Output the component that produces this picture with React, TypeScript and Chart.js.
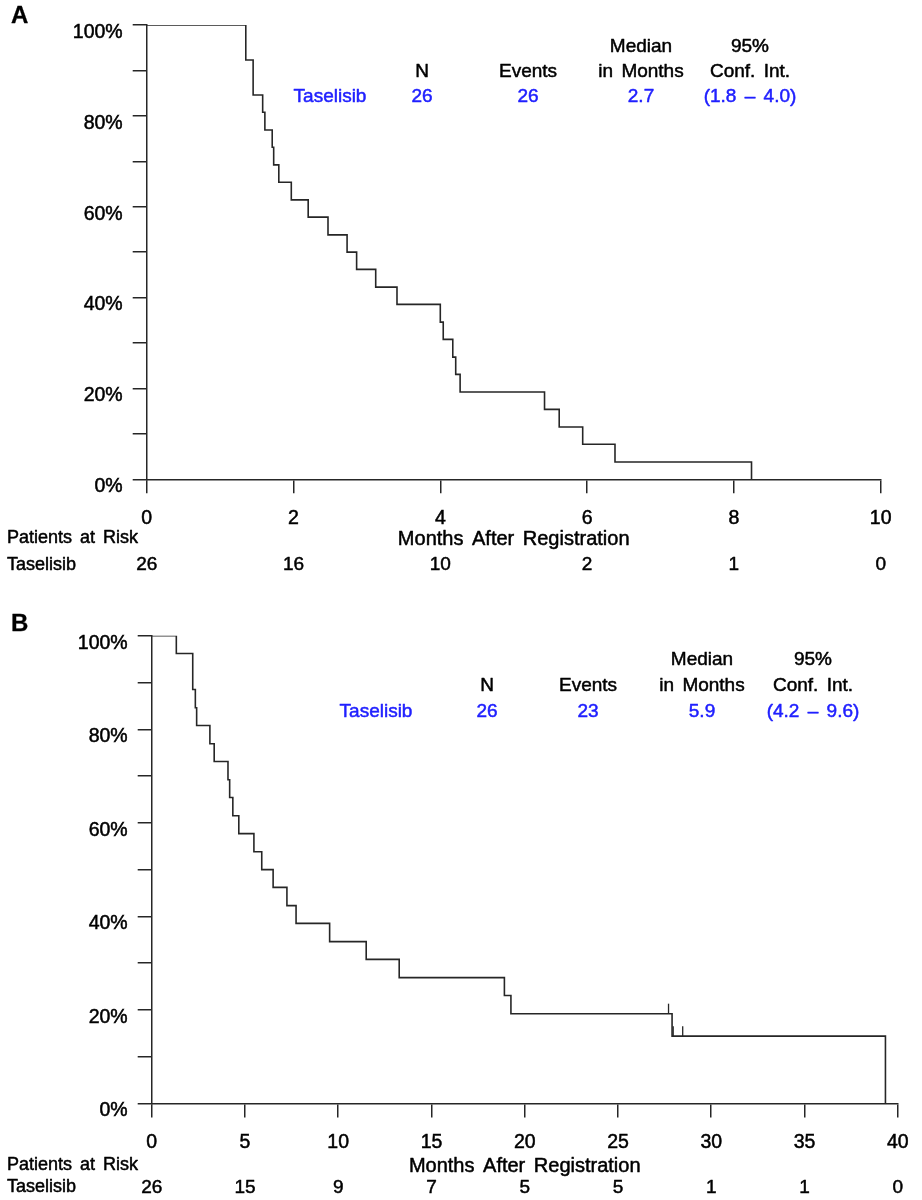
import React, { useEffect, useRef } from 'react';
import { Chart, registerables } from 'chart.js';

Chart.register(...registerables);

// ---------------- Panel A data ----------------
const monthsA = [0, 1.35, 1.45, 1.58, 1.61, 1.71, 1.73, 1.8, 1.97, 2.2, 2.47, 2.73, 2.86, 3.12, 3.41, 4.0, 4.04, 4.17, 4.21, 4.27, 5.42, 5.62, 5.94, 6.38, 8.24];
const survivalA = [100, 92.3, 84.6, 80.8, 76.9, 73.1, 69.2, 65.4, 61.5, 57.7, 53.8, 50.0, 46.2, 42.3, 38.5, 34.6, 30.8, 26.9, 23.1, 19.2, 15.4, 11.5, 7.7, 3.8, 0];
const censorMonthsA: number[] = [];
const censorSurvivalA: number[] = [];
const riskTimesA = [0, 2, 4, 6, 8, 10];
const riskCountsA = [26, 16, 10, 2, 1, 0];
const statsA = ['Taselisib', '26', '26', '2.7', '(1.8 – 4.0)'];

// ---------------- Panel B data ----------------
const monthsB = [0, 1.32, 2.2, 2.34, 2.41, 3.12, 3.35, 4.09, 4.18, 4.35, 4.67, 5.48, 5.9, 6.51, 7.25, 7.74, 9.54, 11.5, 13.27, 18.91, 19.26, 27.9, 39.34];
const survivalB = [100, 96.2, 88.5, 84.6, 80.8, 76.9, 73.1, 69.2, 65.4, 61.5, 57.7, 53.8, 50.0, 46.2, 42.3, 38.5, 34.6, 30.8, 26.9, 23.1, 19.2, 14.4, 0];
const censorMonthsB = [27.71, 27.96, 28.47];
const censorSurvivalB = [19.2, 14.4, 14.4];
const riskTimesB = [0, 5, 10, 15, 20, 25, 30, 35, 40];
const riskCountsB = [26, 15, 9, 7, 5, 5, 1, 1, 0];
const statsB = ['Taselisib', '26', '23', '5.9', '(4.2 – 9.6)'];

// ---------------- shared labels ----------------
const headerTop = ['', '', '', 'Median', '95%'];
const headerBottom = ['', 'N', 'Events', 'in Months', 'Conf. Int.'];
const armName = 'Taselisib';
const xTitle = 'Months After Registration';
const riskTitle = 'Patients at Risk';

const FONT = "'Liberation Sans', Arial, Helvetica, sans-serif";
const INK = '#262626';
const BLUE = '#2020ff';
const W = 922;

type Panel = {
  letter: string;
  top: number;
  height: number;
  plot: { left: number; right: number; top: number; bottom: number };
  months: number[];
  survival: number[];
  censorMonths: number[];
  censorSurvival: number[];
  riskTimes: number[];
  riskCounts: number[];
  stats: string[];
  xMax: number;
  legendCols: number[];
  legendRows: number[];
  letterY: number;
  patientsY: number;
  riskY: number;
};

const panels: Panel[] = [
  {
    letter: 'A', top: 0, height: 600,
    plot: { left: 146.7, right: 880.7, top: 25, bottom: 479.3 },
    months: monthsA, survival: survivalA, censorMonths: censorMonthsA, censorSurvival: censorSurvivalA,
    riskTimes: riskTimesA, riskCounts: riskCountsA, stats: statsA, xMax: 10,
    legendCols: [330, 422, 528, 641, 750], legendRows: [47, 72, 97],
    letterY: 16, patientsY: 538.5, riskY: 565,
  },
  {
    letter: 'B', top: 600, height: 600,
    plot: { left: 151.7, right: 907.7, top: 35.7, bottom: 503.5 },
    months: monthsB, survival: survivalB, censorMonths: censorMonthsB, censorSurvival: censorSurvivalB,
    riskTimes: riskTimesB, riskCounts: riskCountsB, stats: statsB, xMax: 40,
    legendCols: [376, 487, 588, 702, 813], legendRows: [60, 86, 112],
    letterY: 24, patientsY: 565, riskY: 587.5,
  },
];

function text(ctx: CanvasRenderingContext2D, s: string, x: number, y: number, align: CanvasTextAlign, font: string, color: string, stroke = 0.5) {
  ctx.save();
  ctx.font = font;
  ctx.fillStyle = color;
  ctx.strokeStyle = color;
  ctx.lineWidth = stroke;
  ctx.lineJoin = 'round';
  ctx.textAlign = align;
  ctx.textBaseline = 'middle';
  (ctx as any).wordSpacing = '3px';
  ctx.fillText(s, x, y);
  if (stroke > 0) ctx.strokeText(s, x, y);
  ctx.restore();
}

function makeChart(canvas: HTMLCanvasElement, p: Panel) {
  const annotations = {
    id: 'kmAnnotations',
    afterDraw(chart: any) {
      const ctx: CanvasRenderingContext2D = chart.ctx;
      const xs = chart.scales.x;
      const ys = chart.scales.y;
      // censor marks
      ctx.save();
      ctx.strokeStyle = INK;
      ctx.lineWidth = 1.3;
      p.censorMonths.forEach((m, i) => {
        const x = xs.getPixelForValue(m);
        const y = ys.getPixelForValue(p.censorSurvival[i]);
        ctx.beginPath();
        ctx.moveTo(x, y);
        ctx.lineTo(x, y - 10);
        ctx.stroke();
      });
      ctx.restore();
      // panel letter
      text(ctx, p.letter, 11, p.letterY, 'left', `bold 24px ${FONT}`, '#000', 0.3);
      // legend table
      const f19 = `19px ${FONT}`;
      p.legendCols.forEach((cx, i) => {
        if (headerTop[i]) text(ctx, headerTop[i], cx, p.legendRows[0], 'center', f19, '#000');
        if (headerBottom[i]) text(ctx, headerBottom[i], cx, p.legendRows[1], 'center', f19, '#000');
        text(ctx, p.stats[i], cx, p.legendRows[2], 'center', f19, BLUE);
      });
      // axis title & risk table
      text(ctx, xTitle, (chart.chartArea.left + chart.chartArea.right) / 2, p.patientsY + 1, 'center', `20px ${FONT}`, '#000');
      text(ctx, riskTitle, 7, p.patientsY, 'left', `18px ${FONT}`, '#000');
      text(ctx, armName, 7, p.riskY, 'left', `18px ${FONT}`, '#000');
      p.riskTimes.forEach((t, i) => {
        text(ctx, String(p.riskCounts[i]), xs.getPixelForValue(t), p.riskY, 'center', `19px ${FONT}`, '#000');
      });
    },
  };

  const tickFont = { family: FONT, size: 19.5 };
  return new Chart(canvas, {
    type: 'line',
    data: {
      datasets: [
        {
          data: p.months.map((m, i) => ({ x: m, y: p.survival[i] })),
          stepped: 'before',
          borderColor: INK,
          borderWidth: 1.6,
          pointRadius: 0,
          fill: false,
        },
      ],
    },
    options: {
      responsive: false,
      animation: false,
      events: [],
      layout: { padding: { top: p.plot.top, right: W - p.plot.right, left: 0, bottom: 0 } },
      plugins: { legend: { display: false }, tooltip: { enabled: false }, title: { display: false } },
      scales: {
        x: {
          type: 'linear',
          min: 0,
          max: p.xMax,
          afterBuildTicks: (s: any) => {
            s.ticks = p.riskTimes.map((v) => ({ value: v }));
          },
          ticks: {
            autoSkip: false, maxRotation: 0, padding: 13.4, font: tickFont, color: '#000',
            textStrokeColor: '#000', textStrokeWidth: 0.5,
          },
          grid: { drawOnChartArea: false, drawTicks: true, tickLength: 14, color: INK, lineWidth: 1.5 },
          border: { display: true, color: INK, width: 1.5 },
          afterFit: (s: any) => {
            s.height = p.height - p.plot.bottom;
          },
        },
        y: {
          type: 'linear',
          min: 0,
          max: 100,
          ticks: {
            stepSize: 10,
            autoSkip: false,
            padding: 10,
            labelOffset: 7.5,
            font: tickFont,
            color: '#000',
            textStrokeColor: '#000',
            textStrokeWidth: 0.5,
            callback: (v: any) => (Math.round(v) % 20 === 0 ? `${Math.round(v)}%` : ''),
          },
          grid: { drawOnChartArea: false, drawTicks: true, tickLength: 14, color: INK, lineWidth: 1.5 },
          border: { display: true, color: INK, width: 1.5 },
          afterFit: (s: any) => {
            s.width = p.plot.left;
          },
        },
      },
    } as any,
    plugins: [annotations],
  });
}

function PanelChart({ p }: { p: Panel }) {
  const ref = useRef<HTMLCanvasElement>(null);
  useEffect(() => {
    if (!ref.current) return;
    const chart = makeChart(ref.current, p);
    return () => chart.destroy();
  }, [p]);
  return (
    <canvas
      ref={ref}
      width={W}
      height={p.height}
      style={{ position: 'absolute', left: 0, top: p.top, width: W, height: p.height, display: 'block' }}
    />
  );
}

export default function App() {
  return (
    <div style={{ position: 'absolute', left: 0, top: 0, width: W, height: 1200, background: '#fff' }}>
      {panels.map((p) => (
        <PanelChart key={p.letter} p={p} />
      ))}
    </div>
  );
}
